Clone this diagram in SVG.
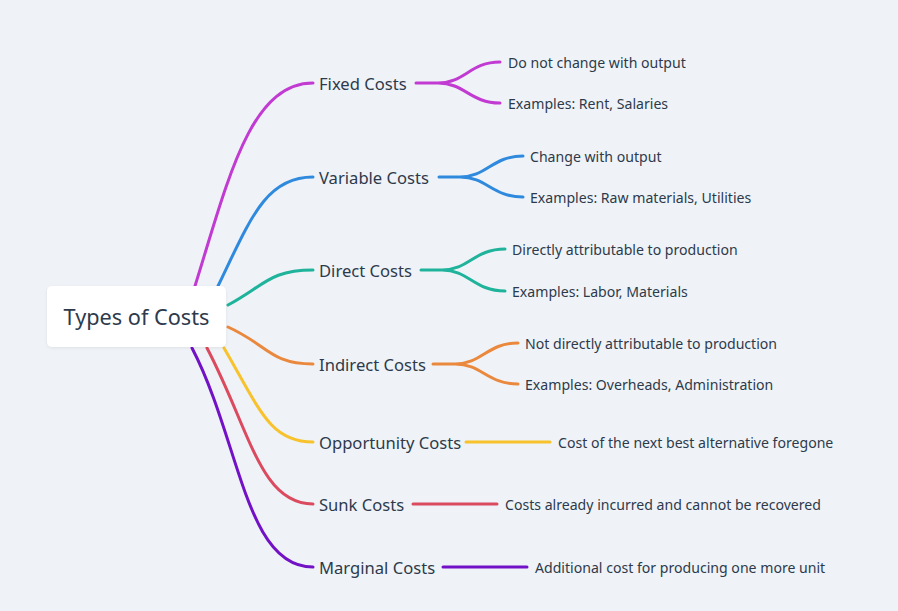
<svg xmlns="http://www.w3.org/2000/svg" width="898" height="611" viewBox="0 0 898 611">
<defs>
<filter id="sh" x="-10%" y="-20%" width="120%" height="140%"><feDropShadow dx="0" dy="1" stdDeviation="1.5" flood-color="#000" flood-opacity="0.08"/></filter>
<style>
.c{fill:none;stroke-width:3;stroke-linecap:round}
.l{font-family:"Noto Sans","Liberation Sans",sans-serif;font-size:16.6px;fill:#2d3a4b}
.s{font-family:"Noto Sans","Liberation Sans",sans-serif;font-size:14.1px;fill:#2d3a4b}
.r{font-family:"Noto Sans","Liberation Sans",sans-serif;font-size:21.7px;fill:#2d3a4b}
</style>
</defs>
<rect width="898" height="611" fill="#eff3f7"/>
<g id="connectors">
<path class="c" stroke="#c13bd2" d="M195,286 C228,180 250,83 313,83"/>
<path class="c" stroke="#c13bd2" d="M416,83 L438,83 C465,83 470,62 500,62 M438,83 C465,83 470,103 500,103"/>
<path class="c" stroke="#2f8ade" d="M218,286 C250,220 265,177 313,177"/>
<path class="c" stroke="#2f8ade" d="M439,177 L460,177 C487,177 492,156 523,156 M460,177 C487,177 492,197 523,197"/>
<path class="c" stroke="#1fb39b" d="M228,305 C265,285 270,270 313,270"/>
<path class="c" stroke="#1fb39b" d="M421,270 L442,270 C469,270 474,249 505,249 M442,270 C469,270 474,291 505,291"/>
<path class="c" stroke="#ea893e" d="M228,327 C268,345 270,364 313,364"/>
<path class="c" stroke="#ea893e" d="M433,364 L455,364 C482,364 487,343 518,343 M455,364 C482,364 487,384 518,384"/>
<path class="c" stroke="#f7c22c" d="M224,348 C260,410 270,442 313,442"/>
<path class="c" stroke="#f7c22c" d="M466,442 L550,442"/>
<path class="c" stroke="#db4a5f" d="M207,348 C250,430 260,504 313,504"/>
<path class="c" stroke="#db4a5f" d="M413,504 L497,504"/>
<path class="c" stroke="#7211c6" d="M192,348 C240,440 245,567 313,567"/>
<path class="c" stroke="#7211c6" d="M443,567 L527,567"/>
</g>
<g id="root"><rect x="47" y="286" width="179" height="61" rx="5" fill="#fff" filter="url(#sh)"/><text class="r" x="136.5" y="325" text-anchor="middle">Types of Costs</text></g>
<g id="fixed"><text class="l" x="319" y="90">Fixed Costs</text></g>
<g id="fixed1"><text class="s" x="508" y="68">Do not change with output</text></g>
<g id="fixed2"><text class="s" x="508" y="109">Examples: Rent, Salaries</text></g>
<g id="variable"><text class="l" x="319" y="184">Variable Costs</text></g>
<g id="variable1"><text class="s" x="530" y="162">Change with output</text></g>
<g id="variable2"><text class="s" x="530" y="203">Examples: Raw materials, Utilities</text></g>
<g id="direct"><text class="l" x="319" y="277">Direct Costs</text></g>
<g id="direct1"><text class="s" x="512" y="255">Directly attributable to production</text></g>
<g id="direct2"><text class="s" x="512" y="297">Examples: Labor, Materials</text></g>
<g id="indirect"><text class="l" x="319" y="371">Indirect Costs</text></g>
<g id="indirect1"><text class="s" x="525" y="349">Not directly attributable to production</text></g>
<g id="indirect2"><text class="s" x="525" y="390">Examples: Overheads, Administration</text></g>
<g id="opportunity"><text class="l" x="319" y="449">Opportunity Costs</text></g>
<g id="opportunity1"><text class="s" x="558" y="448">Cost of the next best alternative foregone</text></g>
<g id="sunk"><text class="l" x="319" y="511">Sunk Costs</text></g>
<g id="sunk1"><text class="s" x="505" y="510">Costs already incurred and cannot be recovered</text></g>
<g id="marginal"><text class="l" x="319" y="574">Marginal Costs</text></g>
<g id="marginal1"><text class="s" x="535" y="573">Additional cost for producing one more unit</text></g>
</svg>
